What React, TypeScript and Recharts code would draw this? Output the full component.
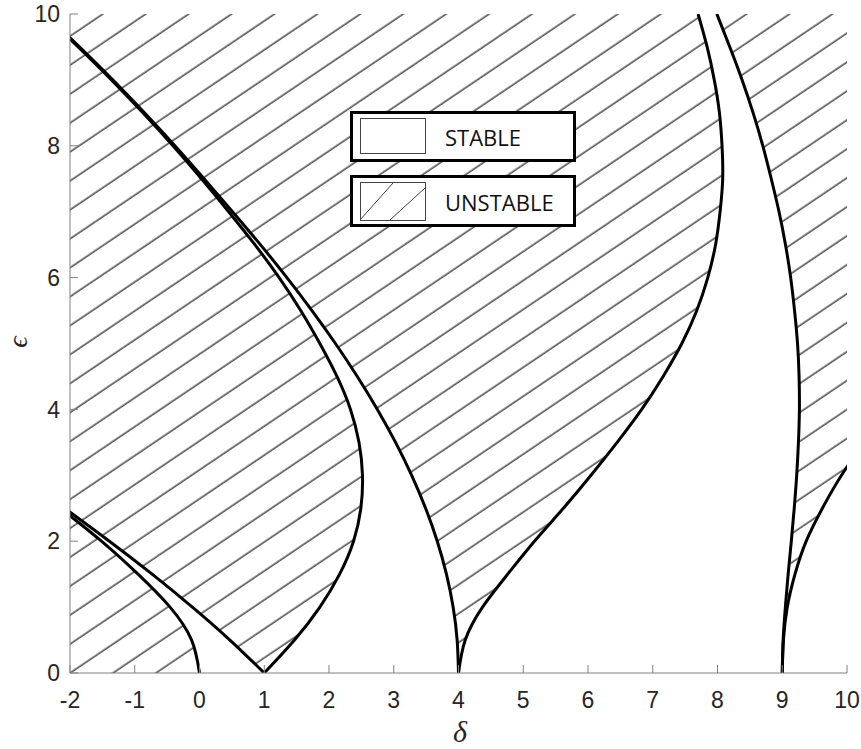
import { ComposedChart, Area, Line, XAxis, YAxis } from 'recharts';

// Mathieu stability chart: transition curves delta(eps)
const EPS = [0, 0.5, 1, 1.5, 2, 2.5, 3, 3.5, 4, 4.5, 5, 5.5, 6, 6.5, 7, 7.5, 8, 8.5, 9, 9.5, 10];

const A0 = [0, -0.122, -0.455, -0.95, -1.514, -2.15, -2.834, -3.54, -4.281, -5.03, -5.8, -6.57, -7.36, -8.16, -8.97, -9.78, -10.6, -11.43, -12.26, -13.1, -13.94];
const B1 = [1, 0.47, -0.11, -0.732, -1.391, -2.08, -2.785, -3.51, -4.26, -5.02, -5.79, -6.56, -7.35, -8.16, -8.97, -9.78, -10.6, -11.43, -12.26, -13.1, -13.94];
const A1 = [1, 1.467, 1.859, 2.164, 2.379, 2.492, 2.517, 2.463, 2.332, 2.123, 1.858, 1.563, 1.23, 0.855, 0.45, 0.03, -0.41, -0.874, -1.36, -1.874, -2.399];
const B2 = [4, 3.979, 3.917, 3.814, 3.672, 3.492, 3.277, 3.028, 2.747, 2.437, 2.0995, 1.737, 1.35, 0.94, 0.51, 0.07, -0.38, -0.85, -1.34, -1.855, -2.382];
const A2 = [4, 4.104, 4.371, 4.76, 5.173, 5.62, 6.046, 6.45, 6.829, 7.16, 7.449, 7.68, 7.85, 7.97, 8.04, 8.08, 8.07, 8.03, 7.95, 7.84, 7.7];
const B3 = [9, 9.014, 9.048, 9.091, 9.14, 9.185, 9.223, 9.25, 9.265, 9.26, 9.236, 9.19, 9.13, 9.05, 8.95, 8.83, 8.7, 8.55, 8.38, 8.19, 7.99];
const A3 = [9, 9.018, 9.078, 9.197, 9.37, 9.62, 9.915, 10.27, 10.671, 11.1, 11.549, 12.02, 12.5, 13.0, 13.5, 14.05, 14.6, 15.15, 15.7, 16.3, 16.9];

const X_MIN = -2;
const X_MAX = 10;
const X_TICKS = [-2, -1, 0, 1, 2, 3, 4, 5, 6, 7, 8, 9, 10];
const Y_TICKS = [0, 2, 4, 6, 8, 10];

const CURVES = [
  { key: 'a0', values: A0 },
  { key: 'b1', values: B1 },
  { key: 'a1', values: A1 },
  { key: 'b2', values: B2 },
  { key: 'a2', values: A2 },
  { key: 'b3', values: B3 },
  { key: 'a3', values: A3 },
];

const data = EPS.map((eps, i) => {
  const row: Record<string, number | number[]> = { eps };
  CURVES.forEach((c) => {
    row[c.key] = c.values[i];
  });
  // unstable bands (hatched)
  row.u0 = [X_MIN, A0[i]];
  row.u1 = [B1[i], A1[i]];
  row.u2 = [B2[i], A2[i]];
  row.u3 = [B3[i], A3[i]];
  return row;
});

const AXIS_GRAY = '#808080';
const TICK_STYLE = { fill: '#262626', fontSize: 23, fontFamily: 'Liberation Sans, Arial, sans-serif' };

// hatch geometry (screen px)
const HATCH_ANGLE = 34;
const HATCH_GAP = 24;
const rad = (HATCH_ANGLE * Math.PI) / 180;
const HATCH_PHASE = (Math.sin(rad) * 70 + Math.cos(rad) * 673) % HATCH_GAP;

export default function App() {
  return (
    <div style={{ position: 'absolute', left: 0, top: 0, width: 861, height: 749, background: '#fff' }}>
      <ComposedChart
        width={861}
        height={749}
        data={data}
        layout="vertical"
        margin={{ top: 14, right: 14, bottom: 0, left: 0 }}
      >
        <defs>
          <pattern
            id="hatch"
            patternUnits="userSpaceOnUse"
            width={10}
            height={HATCH_GAP}
            patternTransform={`rotate(-${HATCH_ANGLE})`}
          >
            <path
              d={`M0,${HATCH_PHASE} L10,${HATCH_PHASE} M0,${HATCH_PHASE - HATCH_GAP} L10,${HATCH_PHASE - HATCH_GAP} M0,${HATCH_PHASE + HATCH_GAP} L10,${HATCH_PHASE + HATCH_GAP}`}
              stroke="#222"
              strokeWidth={1.1}
            />
          </pattern>
        </defs>
        <XAxis
          type="number"
          domain={[X_MIN, X_MAX]}
          ticks={X_TICKS}
          interval={0}
          allowDataOverflow
          height={76}
          tickSize={-8}
          tickMargin={27}
          tick={TICK_STYLE}
          axisLine={{ stroke: AXIS_GRAY }}
          tickLine={{ stroke: AXIS_GRAY }}
        />
        <XAxis
          xAxisId="top"
          orientation="top"
          type="number"
          domain={[X_MIN, X_MAX]}
          ticks={X_TICKS}
          interval={0}
          allowDataOverflow
          height={0}
          tickSize={-8}
          tick={false}
          axisLine={{ stroke: AXIS_GRAY }}
          tickLine={{ stroke: AXIS_GRAY }}
        />
        <YAxis
          dataKey="eps"
          type="number"
          domain={[0, 10]}
          ticks={Y_TICKS}
          interval={0}
          reversed
          allowDataOverflow
          width={70}
          tickSize={-8}
          tickMargin={18}
          tick={TICK_STYLE}
          axisLine={{ stroke: AXIS_GRAY }}
          tickLine={{ stroke: AXIS_GRAY }}
        />
        <YAxis
          yAxisId="right"
          orientation="right"
          type="number"
          domain={[0, 10]}
          ticks={Y_TICKS}
          interval={0}
          reversed
          width={0}
          tickSize={-8}
          tick={false}
          axisLine={{ stroke: AXIS_GRAY }}
          tickLine={{ stroke: AXIS_GRAY }}
        />
        {['u0', 'u1', 'u2', 'u3'].map((k) => (
          <Area
            key={k}
            dataKey={k}
            type="natural"
            fill="url(#hatch)"
            fillOpacity={1}
            stroke="none"
            isAnimationActive={false}
          />
        ))}
        {CURVES.map((c) => (
          <Line
            key={c.key}
            dataKey={c.key}
            type="natural"
            stroke="#000"
            strokeWidth={3}
            dot={false}
            activeDot={false}
            isAnimationActive={false}
          />
        ))}
      </ComposedChart>

      {/* legend */}
      <div
        style={{
          position: 'absolute', left: 350, top: 111, width: 226, height: 51,
          boxSizing: 'border-box', border: '3px solid #000', background: '#fff',
        }}
      >
        <div
          style={{
            position: 'absolute', left: 7, top: 4, width: 66, height: 36,
            boxSizing: 'border-box', border: '1px solid #444', background: '#fff',
          }}
        />
        <span
          style={{
            position: 'absolute', left: 92, top: 12, fontFamily: 'Open Sans', fontSize: 22,
            lineHeight: '22px', color: '#111', whiteSpace: 'nowrap',
          }}
        >
          STABLE
        </span>
      </div>
      <div
        style={{
          position: 'absolute', left: 350, top: 175, width: 226, height: 52,
          boxSizing: 'border-box', border: '3px solid #000', background: '#fff',
        }}
      >
        <div
          style={{
            position: 'absolute', left: 7, top: 4, width: 66, height: 39,
            boxSizing: 'border-box', border: '1px solid #444', background: '#fff', overflow: 'hidden',
          }}
        >
          <svg width={64} height={37} style={{ display: 'block' }}>
            <line x1={-1} y1={37} x2={32} y2={0} stroke="#444" strokeWidth={1} />
            <line x1={29} y1={37} x2={64} y2={5} stroke="#444" strokeWidth={1} />
          </svg>
        </div>
        <span
          style={{
            position: 'absolute', left: 92, top: 13, fontFamily: 'Open Sans', fontSize: 22,
            lineHeight: '22px', color: '#111', whiteSpace: 'nowrap',
          }}
        >
          UNSTABLE
        </span>
      </div>

      {/* axis labels */}
      <span
        style={{
          position: 'absolute', left: 460, top: 732, transform: 'translate(-50%, -50%)',
          fontFamily: 'Liberation Serif, DejaVu Serif, serif', fontStyle: 'italic', fontSize: 30,
          lineHeight: '30px', color: '#262626',
        }}
      >
        δ
      </span>
      <span
        style={{
          position: 'absolute', left: 18, top: 342, transform: 'translate(-50%, -50%) rotate(-90deg)',
          fontFamily: 'Liberation Serif, DejaVu Serif, serif', fontStyle: 'italic', fontSize: 28,
          lineHeight: '28px', color: '#262626',
        }}
      >
        ϵ
      </span>
    </div>
  );
}
